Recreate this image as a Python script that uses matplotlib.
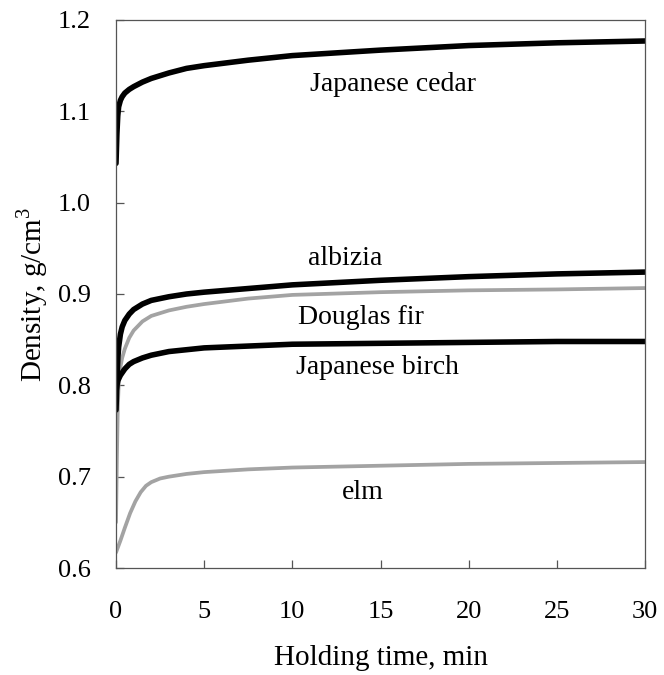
import matplotlib.pyplot as plt

plt.rcParams["font.family"] = ["Liberation Serif", "DejaVu Serif"]
plt.rcParams["mathtext.fontset"] = "custom"
plt.rcParams["mathtext.rm"] = "Liberation Serif"

# holding time (min) and density (g/cm3)
t_cedar = [0, 0.05, 0.1, 0.15, 0.25, 0.35, 0.5, 0.75, 1, 1.5, 2, 3, 4, 5,
           7.5, 10, 15, 20, 25, 30]
cedar = [1.043, 1.075, 1.095, 1.105, 1.112, 1.116, 1.120, 1.124, 1.127,
         1.132, 1.136, 1.142, 1.147, 1.150, 1.156, 1.161, 1.167, 1.172,
         1.175, 1.177]

t_albizia = [0, 0.05, 0.1, 0.15, 0.25, 0.35, 0.5, 0.75, 1, 1.5, 2, 3, 4, 5,
             7.5, 10, 15, 20, 25, 30]
albizia = [0.773, 0.805, 0.828, 0.842, 0.856, 0.864, 0.871, 0.878, 0.883,
           0.889, 0.893, 0.897, 0.900, 0.902, 0.906, 0.910, 0.915, 0.919,
           0.922, 0.924]

t_fir = [0, 0.05, 0.1, 0.15, 0.25, 0.35, 0.5, 0.75, 1, 1.5, 2, 3, 4, 5,
         7.5, 10, 15, 20, 25, 30]
fir = [0.65, 0.72, 0.775, 0.80, 0.82, 0.83, 0.840, 0.852, 0.860, 0.870,
       0.876, 0.882, 0.886, 0.889, 0.895, 0.899, 0.902, 0.904, 0.905, 0.9065]

t_birch = [0, 0.05, 0.1, 0.25, 0.5, 0.75, 1, 1.5, 2, 3, 4, 5, 7.5, 10, 15,
           20, 25, 30]
birch = [0.793, 0.800, 0.805, 0.811, 0.818, 0.823, 0.826, 0.830, 0.833,
         0.837, 0.839, 0.841, 0.843, 0.845, 0.846, 0.847, 0.848, 0.848]

t_elm = [0, 0.25, 0.5, 0.8, 1.1, 1.4, 1.7, 2.0, 2.5, 3, 4, 5, 7.5, 10, 15,
         20, 25, 30]
elm = [0.617, 0.630, 0.644, 0.660, 0.673, 0.683, 0.690, 0.694, 0.698, 0.700,
       0.703, 0.705, 0.708, 0.710, 0.712, 0.714, 0.715, 0.716]

labels = ["Japanese cedar", "albizia", "Douglas fir", "Japanese birch", "elm"]
label_x = [15.7, 13.0, 13.9, 14.8, 14.0]
label_y = [1.129, 0.939, 0.874, 0.819, 0.683]

fig = plt.figure(figsize=(6.64, 6.75), dpi=100)
ax = fig.add_axes([0.1747, 0.1585, 0.7967, 0.8119])

gray = "#a3a3a3"
ax.plot(t_elm, elm, color=gray, lw=2.7, solid_capstyle="round")
ax.plot(t_fir, fir, color=gray, lw=2.7, solid_capstyle="round")
ax.plot(t_birch, birch, color="black", lw=4.0, solid_capstyle="round")
ax.plot(t_albizia, albizia, color="black", lw=4.0, solid_capstyle="round")
ax.plot(t_cedar, cedar, color="black", lw=4.0, solid_capstyle="round")

for name, x, y in zip(labels, label_x, label_y):
    ax.text(x, y, name, fontsize=20, ha="center", va="center")

ax.set_xlim(0, 30)
ax.set_ylim(0.6, 1.2)
ax.set_xticks([0, 5, 10, 15, 20, 25, 30])
ax.set_yticks([0.6, 0.7, 0.8, 0.9, 1.0, 1.1, 1.2])
ax.set_yticklabels(["0.6", "0.7", "0.8", "0.9", "1.0", "1.1", "1.2"])

for s in ax.spines.values():
    s.set_color("#555555")
    s.set_linewidth(0.9)
ax.tick_params(direction="in", length=6, width=0.9, color="#555555",
               labelsize=19)
ax.tick_params(axis="x", pad=24)
ax.tick_params(axis="y", pad=18)

ax.set_xlabel("Holding time, min", fontsize=21)
ax.set_ylabel("Density, g/cm$^3$", fontsize=21)
ax.xaxis.set_label_coords(0.5, -0.14)
ax.yaxis.set_label_coords(-0.125, 0.5)

plt.savefig("out.png", dpi=100)
